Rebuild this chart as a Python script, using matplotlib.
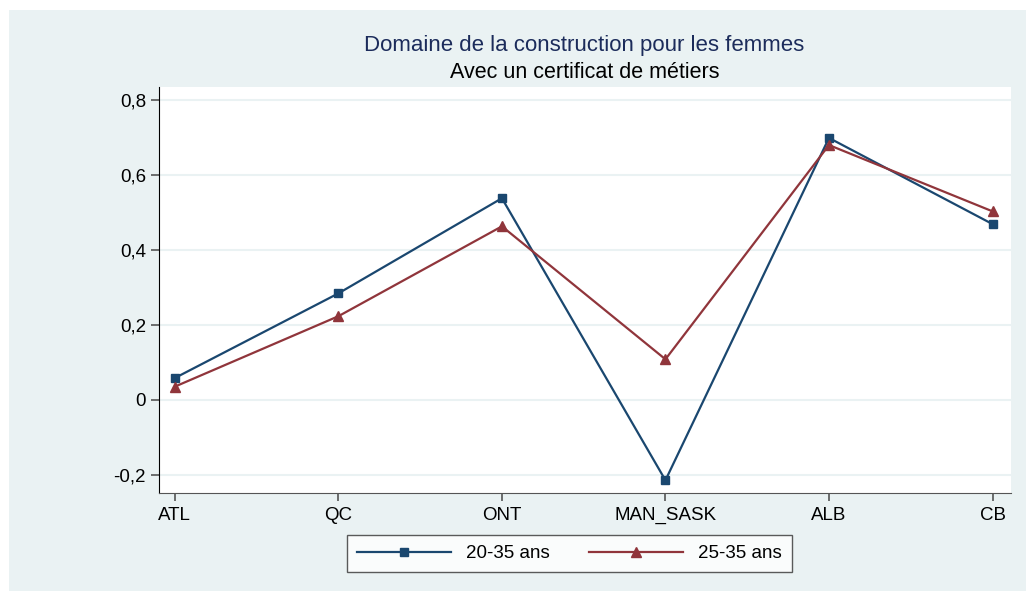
""" Domaine de la construction pour les femmes - line chart by region. """

import matplotlib
matplotlib.use("Agg")
import matplotlib.pyplot as plt
from matplotlib.patches import Rectangle

regions = ["ATL", "QC", "ONT", "MAN_SASK", "ALB", "CB"]
ages_20_35 = [0.058, 0.284, 0.538, -0.215, 0.699, 0.469]
ages_25_35 = [0.035, 0.223, 0.463, 0.108, 0.680, 0.503]
y_ticks = [-0.2, 0, 0.2, 0.4, 0.6, 0.8]
y_tick_labels = ["-0,2", "0", "0,2", "0,4", "0,6", "0,8"]

BG = "#eaf2f3"
NAVY = "#1a476f"
MAROON = "#90353b"


def main():
    plt.rcParams["font.family"] = ["Liberation Sans", "DejaVu Sans"]
    W, H = 1026, 591
    fig = plt.figure(figsize=(W / 100, H / 100), dpi=100)
    fig.patch.set_facecolor("white")
    fig.patches.append(Rectangle((9 / W, 0), 1 - 9 / W, 1 - 10 / H,
                                 transform=fig.transFigure, facecolor=BG,
                                 edgecolor="none", zorder=-10))

    left, right, top, bottom = 158.5, 1010.5, 87, 493
    ax = fig.add_axes([left / W, 1 - bottom / H, (right - left) / W, (bottom - top) / H])
    ax.set_facecolor("white")

    x = range(len(regions))
    ax.plot(x, ages_20_35, color=NAVY, lw=1.6, marker="s", ms=6, label="20-35 ans")
    ax.plot(x, ages_25_35, color=MAROON, lw=1.6, marker="^", ms=7, label="25-35 ans")

    ax.set_xlim(-0.1, 5.11)
    ax.set_ylim(-0.249, 0.835)
    ax.set_xticks(list(x))
    ax.set_xticklabels(regions, fontsize=13.5)
    ax.set_yticks(y_ticks)
    ax.set_yticklabels(y_tick_labels, fontsize=13.5)
    for yv in y_ticks:
        ax.axhline(yv, color=BG, lw=1.5, zorder=0)

    for side in ["top", "right"]:
        ax.spines[side].set_visible(False)
    ax.spines["left"].set_color("black")
    ax.spines["bottom"].set_color("#555555")
    ax.tick_params(axis="both", direction="out", length=6, width=1.2, color="#555555", pad=3)
    ax.tick_params(axis="x", pad=4)

    cx = (left + right) / 2 / W
    fig.text(cx, 1 - 45 / H, "Domaine de la construction pour les femmes",
             ha="center", va="center", fontsize=16, color="#1c2c5b")
    fig.text(cx, 1 - 72 / H, "Avec un certificat de métiers",
             ha="center", va="center", fontsize=15.5, color="black")

    leg = fig.legend(loc="center", bbox_to_anchor=(569.5 / W, 1 - 553.5 / H), ncol=2,
                     fontsize=13.5, frameon=True, fancybox=False, handlelength=5.0,
                     columnspacing=2.1, handletextpad=0.8, borderpad=0.55,
                     borderaxespad=0)
    leg.get_frame().set_edgecolor("#333333")
    leg.get_frame().set_linewidth(1.0)

    fig.savefig("out.png", dpi=100, facecolor=fig.get_facecolor())


if __name__ == "__main__":
    main()
